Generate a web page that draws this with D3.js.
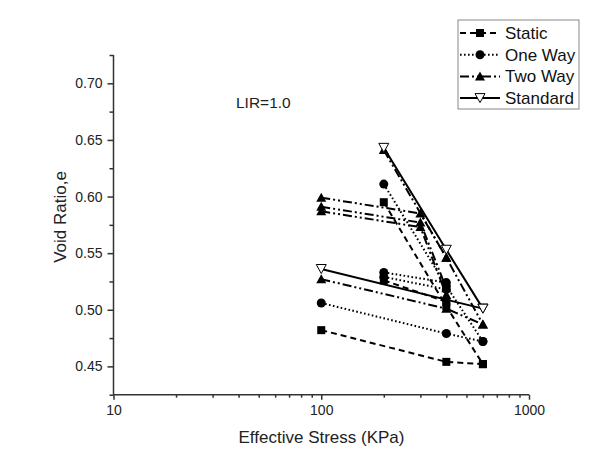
<!DOCTYPE html>
<html><head><meta charset="utf-8">
<script src="https://cdn.jsdelivr.net/npm/d3@7/dist/d3.min.js"></script>
<style>body{margin:0;background:#fff;} svg{display:block;font-family:"Liberation Sans",Arial,sans-serif;}</style>
</head><body><svg id="c" width="595" height="455"></svg>
<script>
// ---- data (stress in kPa, void ratio e) ----
const seriesNames = ["Static", "One Way", "Two Way", "Standard"];
const staticPaths = [
  [[100,0.482],[400,0.454],[600,0.452]],
  [[200,0.595],[400,0.503],[600,0.452]],
  [[200,0.526],[400,0.507]]
];
const oneWayPaths = [
  [[100,0.506],[400,0.479],[600,0.472]],
  [[200,0.611],[400,0.521],[600,0.472]],
  [[200,0.533],[400,0.524]],
  [[200,0.529],[400,0.518]]
];
const twoWayPaths = [
  [[100,0.527],[400,0.501],[600,0.487]],
  [[200,0.641],[400,0.546],[600,0.487]],
  [[100,0.599],[300,0.585],[400,0.546]],
  [[100,0.591],[300,0.577],[400,0.519]],
  [[100,0.587],[300,0.573],[400,0.513]]
];
const standardPaths = [
  [[100,0.536],[600,0.501]],
  [[200,0.643],[400,0.553],[600,0.501]]
];
const xTickLabels = [10, 100, 1000];
const yTickLabels = [0.45, 0.50, 0.55, 0.60, 0.65, 0.70];
const annotation = "LIR=1.0";

// ---- layout ----
const svg = d3.select("#c");
const x = d3.scaleLog().domain([10, 1000]).range([113.5, 529]);
const y = d3.scaleLinear().domain([0.425, 0.725]).range([394.7, 55]);
const axisColor = "#333";

const styles = {
  "Static":   {dash: "6,4", marker: "square"},
  "One Way":  {dash: "1.6,2.4", marker: "circle"},
  "Two Way":  {dash: "9,3,2,3,2,3", marker: "triangle"},
  "Standard": {dash: null, marker: "tridown"}
};
const allPaths = {"Static": staticPaths, "One Way": oneWayPaths, "Two Way": twoWayPaths, "Standard": standardPaths};

function drawMarker(g, type, cx, cy) {
  if (type === "square") {
    g.append("rect").attr("x", cx-4).attr("y", cy-4).attr("width", 8).attr("height", 8).attr("fill", "#000");
  } else if (type === "circle") {
    g.append("circle").attr("cx", cx).attr("cy", cy).attr("r", 4.5).attr("fill", "#000");
  } else if (type === "triangle") {
    g.append("path").attr("d", `M${cx},${cy-5}L${cx+5},${cy+4}L${cx-5},${cy+4}Z`).attr("fill", "#000");
  } else {
    g.append("path").attr("d", `M${cx-5},${cy-4.5}L${cx+5},${cy-4.5}L${cx},${cy+4.5}Z`)
      .attr("fill", "#fff").attr("stroke", "#000").attr("stroke-width", 1);
  }
}

// axes
const xAxis = d3.axisBottom(x).tickValues([10,20,30,40,50,60,70,80,90,100,200,300,400,500,600,700,800,900,1000])
  .tickSize(3).tickFormat(d => xTickLabels.includes(d) ? d : "");
const gx = svg.append("g").attr("transform", "translate(0,394.7)").call(xAxis);
gx.selectAll(".tick line").attr("y2", d => xTickLabels.includes(d) ? 5 : 3);
gx.selectAll(".tick text").attr("font-size", 14).attr("fill", "#222").attr("dy", "1em");
gx.select(".domain").attr("d", "M113.5,0H529");

const yVals = d3.range(0, 13).map(i => +(0.425 + i*0.025).toFixed(3));
const yAxis = d3.axisLeft(y).tickValues(yVals).tickSize(4)
  .tickFormat(d => yTickLabels.some(v => Math.abs(v-d) < 1e-6) ? d3.format(".2f")(d) : "");
const gy = svg.append("g").attr("transform", "translate(113.5,0)").call(yAxis);
gy.selectAll(".tick line").attr("x2", d => yTickLabels.some(v => Math.abs(v-d) < 1e-6) ? -6 : -4);
gy.selectAll(".tick text").attr("font-size", 14).attr("fill", "#222").attr("x", -11);
gy.select(".domain").attr("d", "M0,55V394.7");
svg.selectAll(".domain, .tick line").attr("stroke", axisColor).attr("stroke-width", 1.5);

// titles
svg.append("text").attr("x", 321.5).attr("y", 443).attr("text-anchor", "middle")
  .attr("font-size", 17).attr("fill", "#222").text("Effective Stress (KPa)");
svg.append("text").attr("transform", "translate(66,217) rotate(-90)").attr("text-anchor", "middle")
  .attr("font-size", 17).attr("fill", "#222").text("Void Ratio,e");
svg.append("text").attr("x", 236).attr("y", 108).attr("font-size", 15.5).attr("fill", "#222").text(annotation);

// lines
const line = d3.line().x(d => x(d[0])).y(d => y(d[1]));
const gl = svg.append("g");
seriesNames.forEach(name => {
  allPaths[name].forEach(p => {
    gl.append("path").attr("d", line(p)).attr("fill", "none").attr("stroke", "#000")
      .attr("stroke-width", 2).attr("stroke-dasharray", styles[name].dash);
  });
});
const gm = svg.append("g");
seriesNames.forEach(name => {
  allPaths[name].forEach(p => p.forEach(d => drawMarker(gm, styles[name].marker, x(d[0]), y(d[1]))));
});

// legend
const lg = svg.append("g");
lg.append("rect").attr("x", 458).attr("y", 20).attr("width", 121).attr("height", 89)
  .attr("fill", "#fff").attr("stroke", "#888").attr("stroke-width", 1);
seriesNames.forEach((name, i) => {
  const ly = 33 + i*21.7;
  lg.append("line").attr("x1", 460).attr("x2", 500).attr("y1", ly).attr("y2", ly)
    .attr("stroke", "#000").attr("stroke-width", 2).attr("stroke-dasharray", styles[name].dash);
  drawMarker(lg, styles[name].marker, 480, ly);
  lg.append("text").attr("x", 505).attr("y", ly + 6).attr("font-size", 17).attr("fill", "#111").text(name);
});
</script></body></html>
